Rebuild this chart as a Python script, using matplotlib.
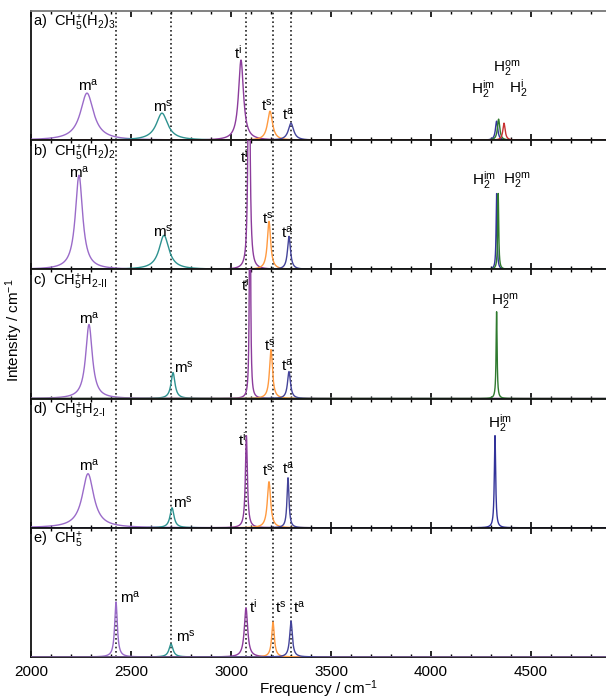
import numpy as np
import matplotlib
matplotlib.use("Agg")
import matplotlib.pyplot as plt
from matplotlib.ticker import MultipleLocator

plt.rcParams['font.family'] = ['Liberation Sans', 'DejaVu Sans']
plt.rcParams['mathtext.fontset'] = 'custom'
plt.rcParams['mathtext.rm'] = 'Liberation Sans'
plt.rcParams['mathtext.it'] = 'Liberation Sans:italic'
plt.rcParams['mathtext.bf'] = 'Liberation Sans:bold'

# ---------------- data ----------------
panel_titles = [
    r"a)  CH$_5^{\mathrm{+}}$(H$_2$)$_3$",
    r"b)  CH$_5^{\mathrm{+}}$(H$_2$)$_2$",
    r"c)  CH$_5^{\mathrm{+}}$H$_{\mathrm{2\text{-}II}}$",
    r"d)  CH$_5^{\mathrm{+}}$H$_{\mathrm{2\text{-}I}}$",
    r"e)  CH$_5^{\mathrm{+}}$",
]

# peak centres (cm^-1), heights (arb.), half widths (cm^-1), mode names
a_freq   = [2280, 2655, 3050, 3195, 3300, 4328, 4338, 4365]
a_height = [47, 27, 80, 29, 17, 19, 21, 17]
a_hwhm   = [40, 35, 15, 15, 16, 7, 7, 7]
a_mode   = ["ma", "ms", "ti", "ts", "ta", "H2im", "H2om", "H2i"]

b_freq   = [2240, 2665, 3090, 3190, 3290, 4328, 4336]
b_height = [94, 34, 300, 48, 33, 76, 76]
b_hwhm   = [22, 30, 5, 10, 9, 3, 3]
b_mode   = ["ma", "ms", "ti", "ts", "ta", "H2im", "H2om"]

c_freq   = [2290, 2710, 3095, 3200, 3290, 4328]
c_height = [74, 26, 300, 49, 27, 87]
c_hwhm   = [20, 12, 3, 9, 9, 3]
c_mode   = ["ma", "ms", "ti", "ts", "ta", "H2om"]

d_freq   = [2285, 2705, 3077, 3190, 3285, 4320]
d_height = [54, 20, 92, 46, 50, 92]
d_hwhm   = [35, 12, 6, 10, 6, 4]
d_mode   = ["ma", "ms", "ti", "ts", "ta", "H2im"]

e_freq   = [2425, 2700, 3075, 3210, 3300]
e_height = [55, 13, 49, 35, 36]
e_hwhm   = [8, 12, 10, 8, 8]
e_mode   = ["ma", "ms", "ti", "ts", "ta"]

mode_text = {
    "ma": r"m$^{\mathrm{a}}$", "ms": r"m$^{\mathrm{s}}$",
    "ti": r"t$^{\mathrm{i}}$", "ts": r"t$^{\mathrm{s}}$", "ta": r"t$^{\mathrm{a}}$",
    "H2im": r"H$_2^{\mathrm{im}}$", "H2om": r"H$_2^{\mathrm{om}}$", "H2i": r"H$_2^{\mathrm{i}}$",
}
xticks = [2000, 2500, 3000, 3500, 4000, 4500]

# ---------------- styles ----------------
mode_color = {
    "ma": "#9a6bc9", "ms": "#2e9290", "ti": "#8c3c9c", "ts": "#ff9a40",
    "ta": "#44449a", "H2im": "#33339a", "H2om": "#2f7a2f", "H2i": "#c83232",
}
# label offsets in pixels (dx, dy) from peak top, and horizontal alignment
lab_a = {"ma": (1, 3, 'center'), "ms": (1, 2, 'center'), "ti": (1, 1, 'right'),
         "ts": (-3, 1, 'center'), "ta": (-3, 4, 'center'), "H2im": (-14, 27, 'center'),
         "H2om": (8, 47, 'center'), "H2i": (14, 30, 'center')}
lab_b = {"ma": (0, -2, 'center'), "ms": (-1, -1, 'center'), "ti": (-1, -23, 'right'),
         "ts": (-1, -2, 'center'), "ta": (-2, -1, 'center'), "H2im": (-13, 9, 'center'),
         "H2om": (18, 9, 'center')}
lab_c = {"ma": (0, 1, 'center'), "ms": (1, 0, 'left'), "ti": (-1, -21, 'right'),
         "ts": (-1, -1, 'center'), "ta": (-2, 1, 'center'), "H2om": (8, 6, 'center')}
lab_d = {"ma": (1, 3, 'center'), "ms": (1, 0, 'left'), "ti": (0, -10, 'right'),
         "ts": (-1, 6, 'center'), "ta": (0, 4, 'center'), "H2im": (5, 8, 'center')}
lab_e = {"ma": (4, -1, 'left'), "ms": (5, 2, 'left'), "ti": (3, -5, 'left'),
         "ts": (2, 9, 'left'), "ta": (2, 8, 'left')}

panels = [
    (a_freq, a_height, a_hwhm, a_mode, lab_a),
    (b_freq, b_height, b_hwhm, b_mode, lab_b),
    (c_freq, c_height, c_hwhm, c_mode, lab_c),
    (d_freq, d_height, d_hwhm, d_mode, lab_d),
    (e_freq, e_height, e_hwhm, e_mode, lab_e),
]

W, H = 606, 699
DPI = 100
fig = plt.figure(figsize=(W / DPI, H / DPI), dpi=DPI)
left, right = 31 / W, 1.0
top, bottom = 1 - 11 / H, 1 - 657 / H
gs = fig.add_gridspec(5, 1, left=left, right=right, top=top, bottom=bottom, hspace=0)

XMIN, XMAX = 2000, 2000 + (W - 31) * 5
YMAX = 129
x = np.linspace(XMIN, XMAX, 6000)
px2pt = 72 / DPI

axes = []
for i, (freq, height, hwhm, mode, lab) in enumerate(panels):
    ax = fig.add_subplot(gs[i, 0])
    axes.append(ax)
    for f, h, g, m in zip(freq, height, hwhm, mode):
        y = h * g**2 / ((x - f) ** 2 + g**2)
        ax.plot(x, y, color=mode_color[m], lw=1.0, zorder=3)
        if m in lab:
            dx, dy, ha = lab[m]
            ytop = min(h, YMAX)
            ax.annotate(mode_text[m], xy=(f, ytop), xytext=(dx * px2pt, dy * px2pt),
                        textcoords='offset points', ha=ha, va='baseline',
                        fontsize=11, zorder=5, annotation_clip=False)
    for f in e_freq:
        ax.axvline(f, color='#222222', ls=(0, (1, 1.6)), lw=1.2, zorder=2)
    ax.set_xlim(XMIN, XMAX)
    ax.set_ylim(0, YMAX)
    ax.set_yticks([])
    ax.set_xticks(xticks)
    ax.xaxis.set_minor_locator(MultipleLocator(100))
    ax.tick_params(axis='x', which='both', direction='in', top=True, bottom=True)
    ax.tick_params(axis='x', which='major', length=4.5, width=1.2)
    ax.tick_params(axis='x', which='minor', length=2.5, width=1.0)
    for s in ['left', 'top', 'bottom']:
        ax.spines[s].set_linewidth(1.3)
        ax.spines[s].set_color('#111111')
    ax.spines['right'].set_visible(False)
    ax.text(2 / (W - 31), 1 - 16 / 129, panel_titles[i], transform=ax.transAxes,
            ha='left', va='baseline', fontsize=10.5)
    if i < 4:
        ax.tick_params(axis='x', labelbottom=False)
    else:
        ax.tick_params(axis='x', labelsize=11, pad=6)

axes[0].spines['top'].set_color('#777777')
fig.text((31 + W) / 2 / W, 1 - 689 / H, r"Frequency / cm$^{-1}$",
         ha='center', va='center', fontsize=11)
fig.text(14 / W, 1 - 330 / H, r"Intensity / cm$^{-1}$", rotation=90,
         ha='center', va='center', fontsize=11)

fig.savefig("out.png", dpi=DPI)
